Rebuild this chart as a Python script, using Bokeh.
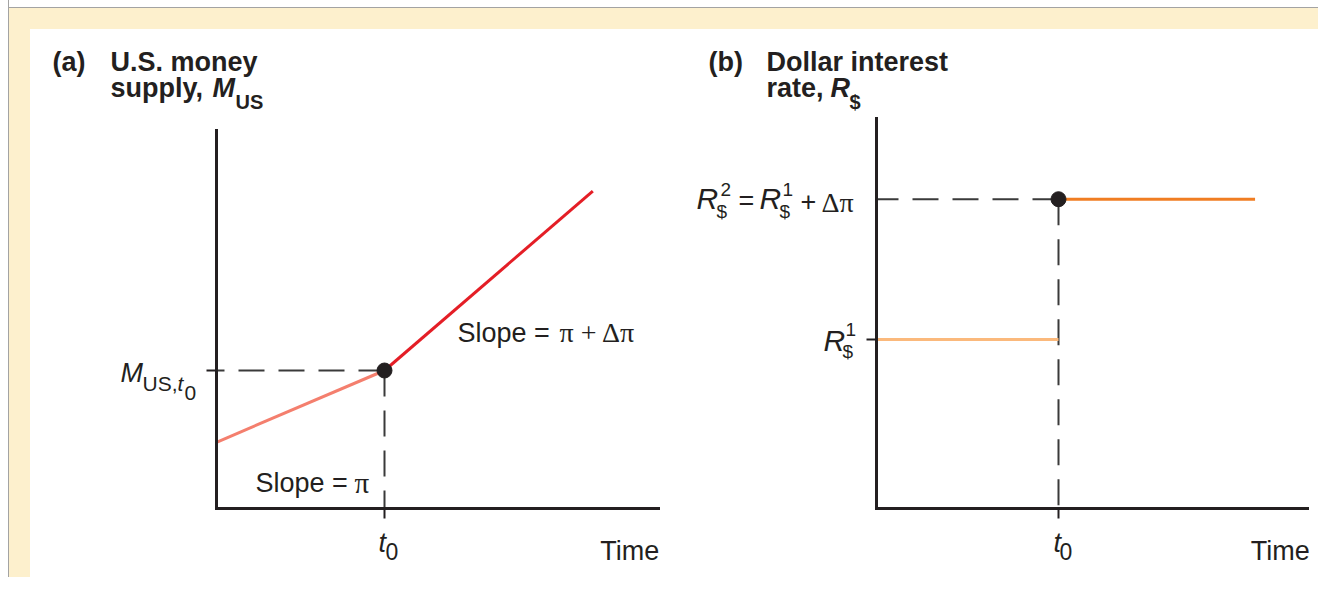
from bokeh.plotting import figure
from bokeh.models import Label, FixedTicker, Range1d
from bokeh.layouts import row
from bokeh.embed import file_html
from bokeh.resources import INLINE

# ---------------- data ----------------
# Panel (a): U.S. money supply over time
A_TIME_BEFORE = [0.0, 1.0]
A_MONEY_BEFORE = [0.48, 1.0]
A_TIME_AFTER = [1.0, 2.24]
A_MONEY_AFTER = [1.0, 2.30]
A_T0 = 1.0
A_M_T0 = 1.0
A_X_MAX = 2.63   # end of the time axis
A_Y_MAX = 2.74   # top of the money axis

# Panel (b): dollar interest rate over time
B_TIME_BEFORE = [0.0, 1.0]
B_RATE_BEFORE = [1.0, 1.0]
B_TIME_AFTER = [1.0, 2.08]
B_RATE_AFTER = [1.83, 1.83]
B_T0 = 1.0
B_R1 = 1.0
B_R2 = 1.83
B_X_MAX = 2.37
B_Y_MAX = 2.31

# ---------------- layout (pixels) ----------------
H = 548
A_W, B_W = 650, 638
A_ORIGIN, A_SCALE = (186, 69), (168, 138)   # data origin from left/bottom, px per unit
B_ORIGIN, B_SCALE = (196, 69), (182, 169)
TEXT_LIFT = 10

INK = "#231F20"
DASH = "#3a3a3a"
FONT = "Liberation Sans"
SERIF = "Liberation Serif"


def make_fig(w, origin, scale, xmax, ymax, xt, yt):
    x_range = Range1d(-origin[0] / scale[0], (w - origin[0]) / scale[0])
    y_range = Range1d(-origin[1] / scale[1], (H - origin[1]) / scale[1])
    p = figure(width=w, height=H, x_range=x_range, y_range=y_range,
               output_backend="svg", toolbar_location=None, min_border=0,
               title=None)
    p.grid.visible = False
    p.outline_line_color = None
    p.background_fill_color = "white"
    p.border_fill_color = "white"
    p.xaxis.ticker = FixedTicker(ticks=[xt])
    p.yaxis.ticker = FixedTicker(ticks=[yt])
    p.xaxis.fixed_location = 0
    p.yaxis.fixed_location = 0
    p.xaxis.bounds = (0, xmax)
    p.yaxis.bounds = (0, ymax)
    for ax in (p.xaxis[0], p.yaxis[0]):
        ax.axis_line_width = 3
        ax.axis_line_color = INK
        ax.axis_line_cap = "square"
        ax.major_tick_line_width = 2
        ax.major_tick_line_color = INK
        ax.major_tick_in = 0
        ax.major_tick_out = 10
        ax.minor_tick_line_color = None
        ax.major_label_text_font_size = "0px"
        ax.major_label_text_color = None
    return p


def txt(p, x, y, text, dx, dy, size, style="normal", align="left", font=FONT):
    p.add_layout(Label(x=x, y=y, x_offset=dx, y_offset=dy + TEXT_LIFT, text=text,
                       text_font=font, text_font_size=f"{size}px",
                       text_font_style=style, text_align=align,
                       text_baseline="alphabetic", text_color=INK))


# ---------------- panel (a) ----------------
pa = make_fig(A_W, A_ORIGIN, A_SCALE, A_X_MAX, A_Y_MAX, A_T0, A_M_T0)
pa.line([A_T0, 0], [A_M_T0, A_M_T0], line_color=DASH, line_width=2, line_dash="26 14")
pa.line([A_T0, A_T0], [A_M_T0, 0], line_color=DASH, line_width=2, line_dash="26 14")
pa.line(A_TIME_BEFORE, A_MONEY_BEFORE, line_color="#F47F6E", line_width=3)
pa.line(A_TIME_AFTER, A_MONEY_AFTER, line_color="#E41E26", line_width=3)
pa.scatter([A_T0], [A_M_T0], size=15, color=INK)

txt(pa, 0, A_Y_MAX, "(a)", -164, 58, 27, "bold")
txt(pa, 0, A_Y_MAX, "U.S. money", -106, 58, 27, "bold")
txt(pa, 0, A_Y_MAX, "supply,", -106, 32, 27, "bold")
txt(pa, 0, A_Y_MAX, "M", -4, 32, 27, "bold italic")
txt(pa, 0, A_Y_MAX, "US", 19, 18, 20, "bold")

txt(pa, 0, A_M_T0, "M", -96, -12, 27, "italic")
txt(pa, 0, A_M_T0, "US,", -74, -23, 21)
txt(pa, 0, A_M_T0, "t", -39, -23, 21, "italic")
txt(pa, 0, A_M_T0, "0", -32, -32, 21)

txt(pa, A_T0, 0, "t", -6, -44, 27, "italic")
txt(pa, A_T0, 0, "0", 1, -53, 23)
txt(pa, A_X_MAX, 0, "Time", 1, -52, 27, align="right")

txt(pa, A_T0, 0, "Slope =", -129, 16, 27)
txt(pa, A_T0, 0, "\u03c0", -30, 16, 29, font=SERIF)
txt(pa, A_T0, A_M_T0, "Slope =", 73, 28, 27)
txt(pa, A_T0, A_M_T0, "\u03c0 + \u0394\u03c0", 175, 28, 28, font=SERIF)

# ---------------- panel (b) ----------------
pb = make_fig(B_W, B_ORIGIN, B_SCALE, B_X_MAX, B_Y_MAX, B_T0, B_R1)
pb.line([B_T0, 0], [B_R2, B_R2], line_color=DASH, line_width=2, line_dash="26 14")
pb.line([B_T0, B_T0], [B_R2, 0], line_color=DASH, line_width=2, line_dash="26 14")
pb.line(B_TIME_BEFORE, B_RATE_BEFORE, line_color="#FBB97C", line_width=3)
pb.line(B_TIME_AFTER, B_RATE_AFTER, line_color="#F07D22", line_width=3)
pb.scatter([B_T0], [B_R2], size=15, color=INK)

txt(pb, 0, B_Y_MAX, "(b)", -168, 46, 27, "bold")
txt(pb, 0, B_Y_MAX, "Dollar interest", -110, 46, 27, "bold")
txt(pb, 0, B_Y_MAX, "rate,", -110, 20, 27, "bold")
txt(pb, 0, B_Y_MAX, "R", -46, 20, 27, "bold italic")
txt(pb, 0, B_Y_MAX, "$", -27, 6, 20, "bold")

txt(pb, 0, B_R1, "R", -53, -11, 30, "italic")
txt(pb, 0, B_R1, "1", -31, 0, 19)
txt(pb, 0, B_R1, "$", -34, -22, 19)

txt(pb, 0, B_R2, "R", -180, -9, 30, "italic")
txt(pb, 0, B_R2, "2", -156, 0, 19)
txt(pb, 0, B_R2, "$", -160, -22, 19)
txt(pb, 0, B_R2, "=", -138, -12, 27)
txt(pb, 0, B_R2, "R", -117, -9, 30, "italic")
txt(pb, 0, B_R2, "1", -94, 0, 19)
txt(pb, 0, B_R2, "$", -97, -22, 19)
txt(pb, 0, B_R2, "+", -76, -12, 27)
txt(pb, 0, B_R2, "\u0394\u03c0", -55, -13, 28, font=SERIF)

txt(pb, B_T0, 0, "t", -5, -44, 27, "italic")
txt(pb, B_T0, 0, "0", 1, -53, 23)
txt(pb, B_X_MAX, 0, "Time", 2, -52, 27, align="right")

pa.margin = (29, 0, 0, 30)
pb.margin = (29, 0, 0, 0)
BG = ("linear-gradient(to right, #ffffff 0 8px, #a3a3a3 8px 9px, transparent 9px), "
      "linear-gradient(to bottom, #ffffff 0 7px, #a3a3a3 7px 8px, #FDF0CD 8px 29px, transparent 29px), "
      "linear-gradient(to right, transparent 0 9px, #FDF0CD 9px 30px, #ffffff 30px)")
layout = row(pa, pb, styles={"background": BG})

open("out.html", "w").write(file_html(layout, INLINE))
